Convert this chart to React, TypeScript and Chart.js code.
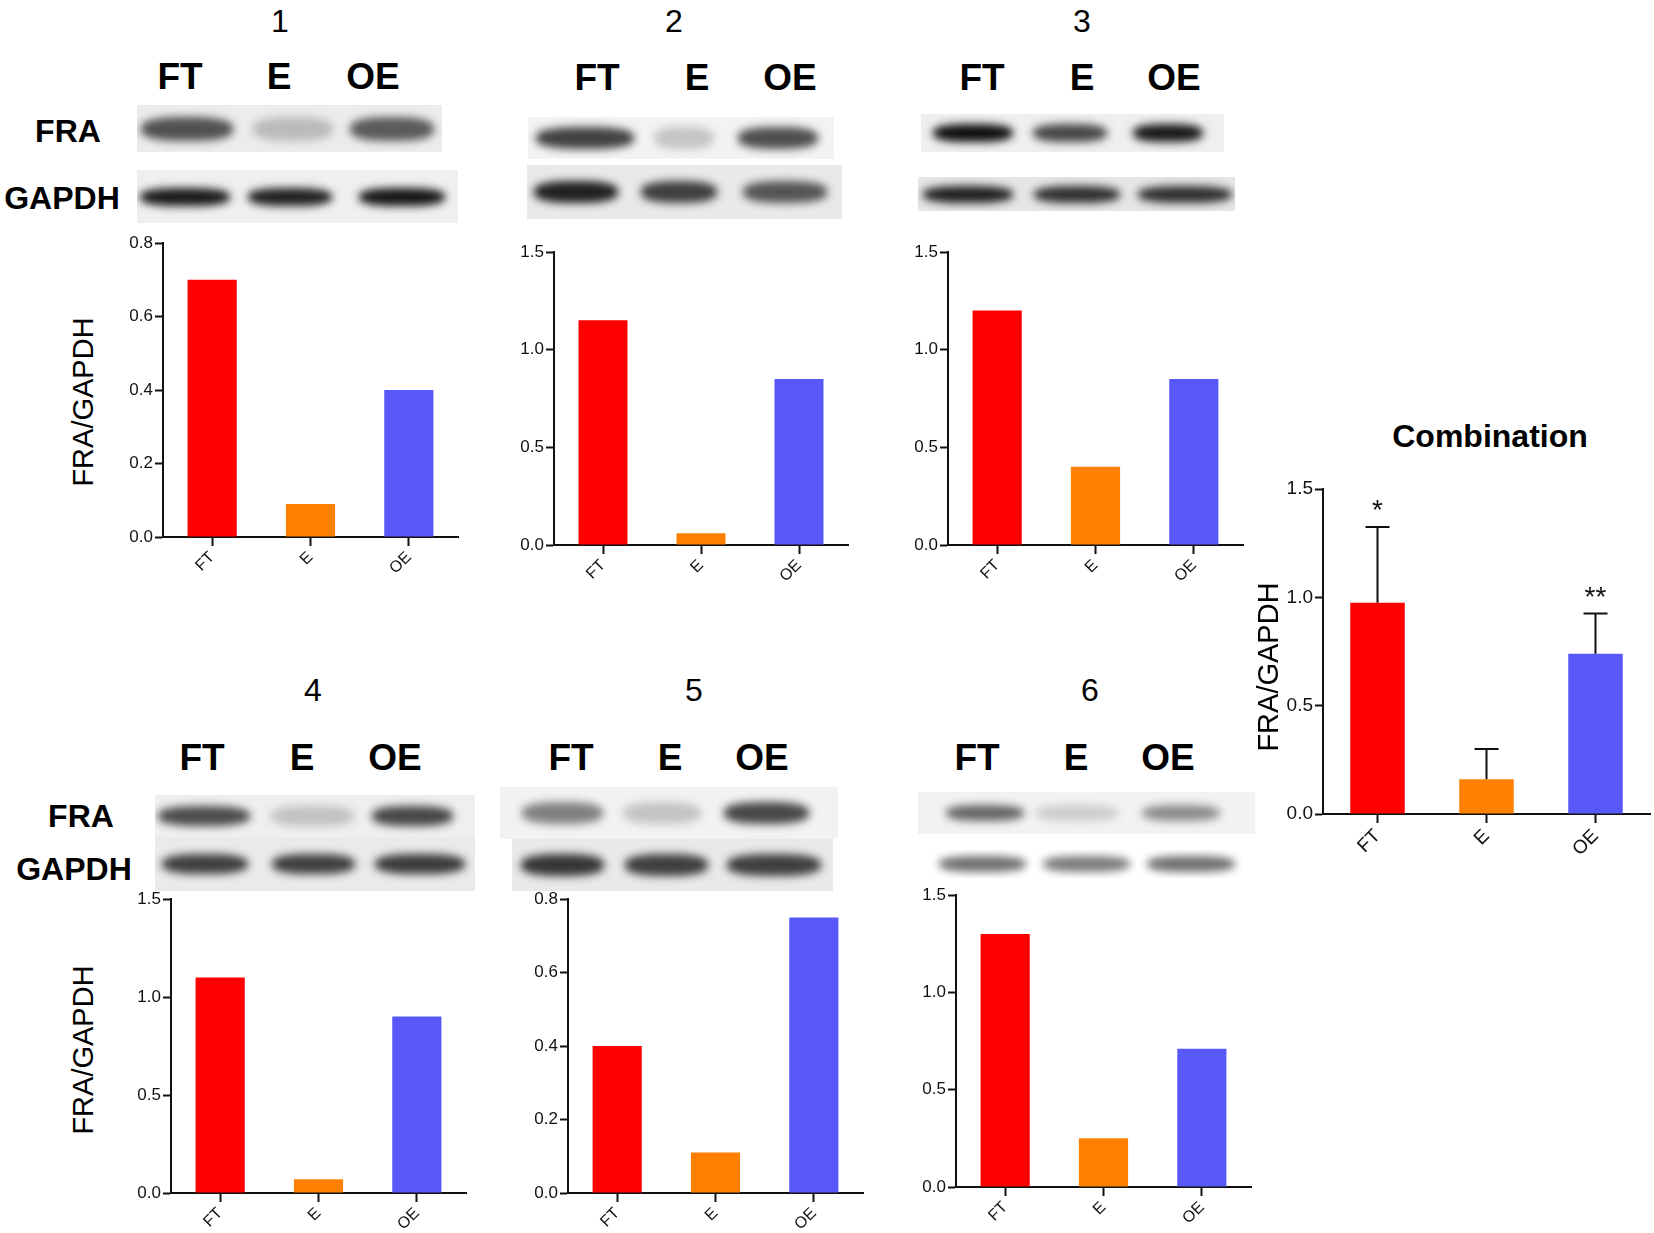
import { useEffect, useRef } from "react"
import { Chart, registerables } from "chart.js"
import type { Plugin } from "chart.js"

Chart.register(...registerables)

// categories and bar colours shared by every panel
const categories = ["FT", "E", "OE"]
const barColors = ["#ff0000", "#ff8000", "#5858f8"]

// FRA/GAPDH ratio per experiment
const exp1 = [0.7, 0.09, 0.4]
const exp2 = [1.15, 0.06, 0.85]
const exp3 = [1.2, 0.4, 0.85]
const exp4 = [1.1, 0.07, 0.9]
const exp5 = [0.4, 0.11, 0.75]
const exp6 = [1.3, 0.25, 0.71]

// combined panel: mean, upper end of the error bar, significance marks
const combinedMean = [0.975, 0.16, 0.74]
const combinedUpper = [1.325, 0.3, 0.925]
const combinedMarks = ["*", "", "**"]

// band darkness (FRA row, GAPDH row)
const fraBands = [
  [0.7, 0.22, 0.66],
  [0.78, 0.2, 0.72],
  [1, 0.75, 0.95],
  [0.72, 0.2, 0.75],
  [0.5, 0.2, 0.75],
  [0.62, 0.16, 0.45],
]
const gapdhBands = [
  [0.95, 0.92, 0.97],
  [0.92, 0.78, 0.68],
  [0.92, 0.85, 0.85],
  [0.78, 0.78, 0.8],
  [0.82, 0.78, 0.78],
  [0.6, 0.55, 0.6],
]

const FONT = "'Liberation Sans', Arial, Helvetica, sans-serif"
const INK = "#111"

const errorBars: Plugin<"bar"> = {
  id: "errorBars",
  afterDatasetsDraw(chart, _args, opts: any) {
    if (!opts || !opts.upper) return
    const { ctx } = chart
    const meta = chart.getDatasetMeta(0)
    const y = chart.scales.y
    ctx.save()
    ctx.strokeStyle = "#111"
    ctx.fillStyle = "#111"
    ctx.lineWidth = 2
    meta.data.forEach((bar: any, i: number) => {
      const yTop = y.getPixelForValue(opts.upper[i])
      ctx.beginPath()
      ctx.moveTo(bar.x, bar.y)
      ctx.lineTo(bar.x, yTop)
      ctx.moveTo(bar.x - 12, yTop)
      ctx.lineTo(bar.x + 12, yTop)
      ctx.stroke()
      if (opts.marks[i]) {
        ctx.font = `28px ${FONT}`
        ctx.textAlign = "center"
        ctx.textBaseline = "alphabetic"
        ctx.fillText(opts.marks[i], bar.x, yTop - 8)
      }
    })
    ctx.restore()
  },
}

interface BarPanelProps {
  values: number[]
  yMax: number
  step: number
  axisX: number
  topY: number
  bottomY: number
  rightX: number
  tickSize?: number
  catSize?: number
  upper?: number[]
  marks?: string[]
}

function BarPanel({ values, yMax, step, axisX, topY, bottomY, rightX, tickSize = 17, catSize = 16, upper, marks }: BarPanelProps) {
  const ref = useRef<HTMLCanvasElement>(null)
  const padTop = 16
  const padRight = 12
  const xH = 70
  const yW = 70
  const left = axisX - yW
  const width = Math.round(yW + (rightX - axisX) + padRight)
  const height = Math.round(padTop + (bottomY - topY) + xH)

  useEffect(() => {
    if (!ref.current) return
    const chart = new Chart(ref.current, {
      type: "bar",
      data: {
        labels: categories,
        datasets: [
          {
            data: values,
            backgroundColor: barColors,
            borderWidth: 0,
            barPercentage: 0.5,
            categoryPercentage: 1,
          },
        ],
      },
      options: {
        responsive: false,
        animation: false,
        layout: { padding: { top: padTop, right: padRight, left: 0, bottom: 0 } },
        plugins: {
          legend: { display: false },
          tooltip: { enabled: false },
          errorBars: { upper, marks },
        } as any,
        scales: {
          x: {
            grid: { display: true, drawOnChartArea: false, offset: false, tickLength: 9, tickWidth: 2, tickColor: "#111" },
            border: { color: "#111", width: 2 },
            ticks: { minRotation: 45, maxRotation: 45, padding: 2, color: INK, font: { family: FONT, size: catSize } },
            afterFit: (s: any) => {
              s.height = xH
            },
          },
          y: {
            min: 0,
            max: yMax,
            grid: { display: true, drawOnChartArea: false, tickLength: 8, tickWidth: 2, tickColor: "#111" },
            border: { color: "#111", width: 2 },
            ticks: {
              stepSize: step,
              padding: 2,
              color: INK,
              font: { family: FONT, size: tickSize },
              callback: (v) => Number(v).toFixed(1),
            },
            afterFit: (s: any) => {
              s.width = yW
            },
          },
        },
      },
      plugins: [errorBars],
    })
    return () => chart.destroy()
  }, [values, yMax, step, upper, marks, tickSize, catSize])

  return (
    <canvas
      ref={ref}
      width={width}
      height={height}
      style={{ position: "absolute", left, top: topY - padTop, width, height }}
    />
  )
}

function Label({ x, y, text, size, bold = false, rotate = 0 }: { x: number; y: number; text: string; size: number; bold?: boolean; rotate?: number }) {
  return (
    <div
      style={{
        position: "absolute",
        left: x,
        top: y,
        transform: `translate(-50%, -50%) rotate(${rotate}deg)`,
        fontFamily: FONT,
        fontSize: size,
        fontWeight: bold ? 700 : 400,
        lineHeight: 1,
        color: "#000",
        whiteSpace: "nowrap",
      }}
    >
      {text}
    </div>
  )
}

interface BlotProps {
  x: number
  y: number
  w: number
  h: number
  bg: string
  lanes: number[]
  widths: number[]
  dark: number[]
  bandH: number
}

function Blot({ x, y, w, h, bg, lanes, widths, dark, bandH }: BlotProps) {
  return (
    <div style={{ position: "absolute", left: x, top: y, width: w, height: h, background: bg, overflow: "hidden" }}>
      {lanes.map((cx, i) => (
        <div
          key={i}
          style={{
            position: "absolute",
            left: cx - x - widths[i] / 2,
            top: h / 2 - bandH / 2,
            width: widths[i],
            height: bandH,
            borderRadius: "40%",
            background: `rgba(15,15,15,${dark[i]})`,
            filter: "blur(4px)",
          }}
        />
      ))}
    </div>
  )
}

function Lanes({ y, xs }: { y: number; xs: number[] }) {
  return (
    <>
      {categories.map((c, i) => (
        <Label key={c} x={xs[i]} y={y} text={c} size={37} bold />
      ))}
    </>
  )
}

export default function App() {
  return (
    <div style={{ position: "absolute", left: 0, top: 0, width: 1654, height: 1233, background: "#fff", overflow: "hidden" }}>
      {/* top row */}
      <Label x={280} y={21} text="1" size={32} />
      <Label x={674} y={21} text="2" size={32} />
      <Label x={1082} y={21} text="3" size={32} />
      <Lanes y={76} xs={[180, 279, 373]} />
      <Lanes y={77} xs={[597, 697, 790]} />
      <Lanes y={77} xs={[982, 1082, 1174]} />
      <Label x={68} y={131} text="FRA" size={32} bold />
      <Label x={62} y={198} text="GAPDH" size={32} bold />

      <Blot x={137} y={105} w={305} h={47} bg="#ececec" lanes={[187, 293, 392]} widths={[92, 80, 84]} dark={fraBands[0]} bandH={24} />
      <Blot x={137} y={170} w={321} h={53} bg="#efefef" lanes={[185, 290, 402]} widths={[90, 84, 86]} dark={gapdhBands[0]} bandH={18} />
      <Blot x={528} y={117} w={306} h={42} bg="#f3f3f3" lanes={[585, 684, 778]} widths={[98, 60, 80]} dark={fraBands[1]} bandH={22} />
      <Blot x={527} y={165} w={315} h={54} bg="#e9e9e9" lanes={[576, 679, 785]} widths={[84, 76, 84]} dark={gapdhBands[1]} bandH={22} />
      <Blot x={921} y={114} w={303} h={38} bg="#efefef" lanes={[973, 1070, 1168]} widths={[80, 74, 70]} dark={fraBands[2]} bandH={18} />
      <Blot x={918} y={177} w={317} h={34} bg="#e6e6e6" lanes={[968, 1077, 1185]} widths={[90, 86, 94]} dark={gapdhBands[2]} bandH={17} />

      <Label x={83} y={402} text="FRA/GAPDH" size={29} rotate={-90} />
      <BarPanel values={exp1} yMax={0.8} step={0.2} axisX={163} topY={243} bottomY={537} rightX={458} />
      <BarPanel values={exp2} yMax={1.5} step={0.5} axisX={554} topY={252} bottomY={545} rightX={848} />
      <BarPanel values={exp3} yMax={1.5} step={0.5} axisX={948} topY={252} bottomY={545} rightX={1243} />

      {/* bottom row */}
      <Label x={313} y={690} text="4" size={32} />
      <Label x={694} y={690} text="5" size={32} />
      <Label x={1090} y={690} text="6" size={32} />
      <Lanes y={757} xs={[202, 302, 395]} />
      <Lanes y={757} xs={[571, 670, 762]} />
      <Lanes y={757} xs={[977, 1076, 1168]} />
      <Label x={81} y={816} text="FRA" size={32} bold />
      <Label x={74} y={869} text="GAPDH" size={32} bold />

      <Blot x={155} y={795} w={320} h={42} bg="#efefef" lanes={[204, 312, 412]} widths={[92, 83, 81]} dark={fraBands[3]} bandH={20} />
      <Blot x={155} y={837} w={320} h={54} bg="#eaeaea" lanes={[205, 313, 420]} widths={[86, 83, 90]} dark={gapdhBands[3]} bandH={20} />
      <Blot x={500} y={787} w={338} h={52} bg="#f2f2f2" lanes={[562, 662, 766]} widths={[81, 78, 85]} dark={fraBands[4]} bandH={22} />
      <Blot x={512} y={839} w={321} h={52} bg="#e9e9e9" lanes={[562, 666, 774]} widths={[83, 83, 94]} dark={gapdhBands[4]} bandH={22} />
      <Blot x={918} y={792} w={337} h={42} bg="#f2f2f2" lanes={[985, 1077, 1181]} widths={[78, 82, 78]} dark={fraBands[5]} bandH={16} />
      <Blot x={930} y={850} w={315} h={28} bg="#fff" lanes={[982, 1086, 1191]} widths={[87, 87, 88]} dark={gapdhBands[5]} bandH={16} />

      <Label x={83} y={1050} text="FRA/GAPDH" size={29} rotate={-90} />
      <BarPanel values={exp4} yMax={1.5} step={0.5} axisX={171} topY={899} bottomY={1193} rightX={466} />
      <BarPanel values={exp5} yMax={0.8} step={0.2} axisX={568} topY={899} bottomY={1193} rightX={863} />
      <BarPanel values={exp6} yMax={1.5} step={0.5} axisX={956} topY={895} bottomY={1187} rightX={1251} />

      {/* combined */}
      <Label x={1490} y={436} text="Combination" size={32} bold />
      <Label x={1268} y={667} text="FRA/GAPDH" size={29} rotate={-90} />
      <BarPanel
        values={combinedMean}
        yMax={1.5}
        step={0.5}
        axisX={1323}
        topY={489}
        bottomY={814}
        rightX={1650}
        tickSize={19}
        catSize={19}
        upper={combinedUpper}
        marks={combinedMarks}
      />
    </div>
  )
}
